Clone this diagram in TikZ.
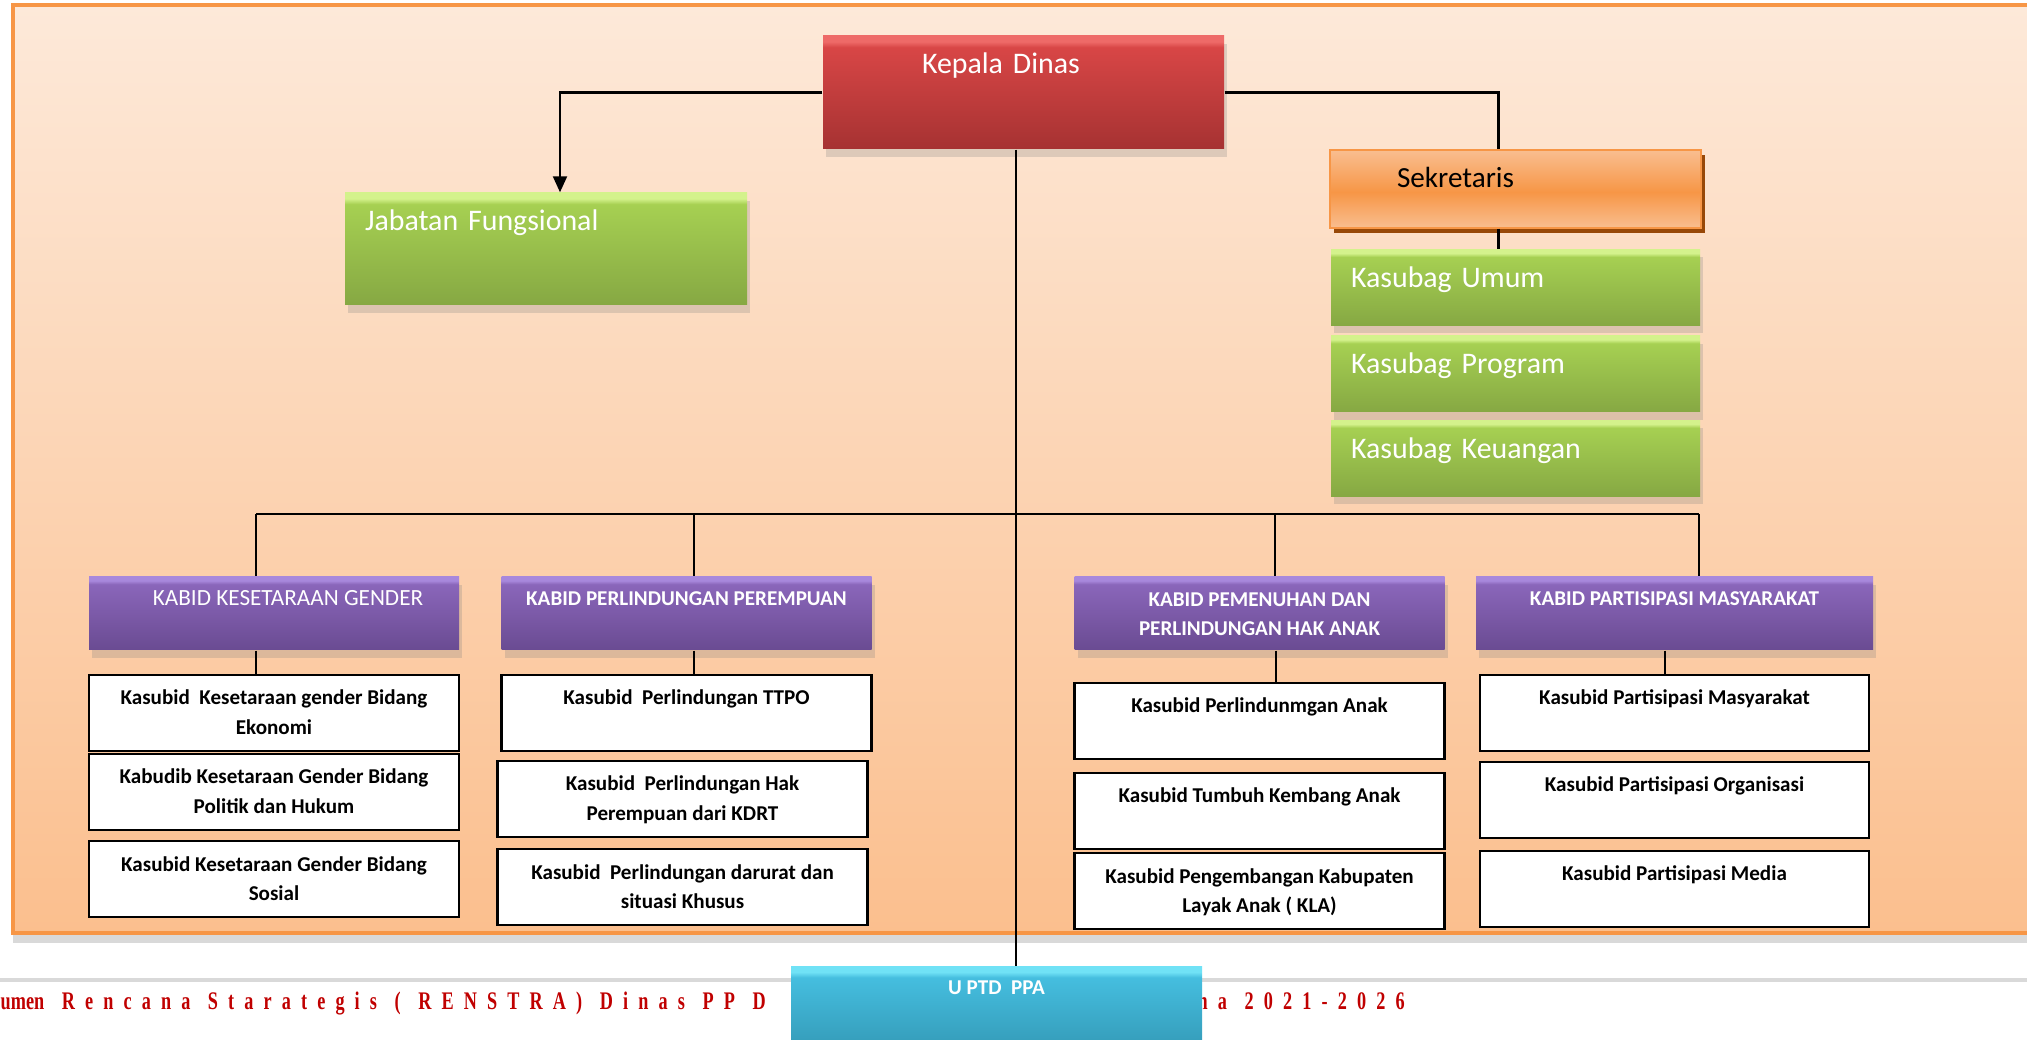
\documentclass[tikz,border=0pt]{standalone}
\usepackage{fontspec}
\setmainfont{Carlito}
\newfontfamily\footfont[LetterSpace=40, WordSpace=1.2, FakeStretch=0.72]{Liberation Serif}
\usetikzlibrary{arrows.meta,positioning,shadows}
\definecolor{panelTop}{HTML}{FDE9D9}
\definecolor{panelBot}{HTML}{FBBF8E}
\definecolor{panelLine}{HTML}{F79646}
\definecolor{redTop}{HTML}{D84646}
\definecolor{redBot}{HTML}{A63232}
\definecolor{redLite}{HTML}{EE6A68}
\definecolor{grnTop}{HTML}{A6D052}
\definecolor{grnBot}{HTML}{86A843}
\definecolor{grnLite}{HTML}{D4F28C}
\definecolor{purTop}{HTML}{8A66BA}
\definecolor{purBot}{HTML}{6A4B92}
\definecolor{purLite}{HTML}{A888DC}
\definecolor{cyaTop}{HTML}{45BEDF}
\definecolor{cyaBot}{HTML}{2E8EAA}
\definecolor{cyaLite}{HTML}{70E2F6}
\definecolor{orMid}{HTML}{F79646}
\definecolor{orLite}{HTML}{F9BE90}
\definecolor{orShadow}{HTML}{984807}
\definecolor{footRed}{HTML}{C00000}
\definecolor{footLine}{HTML}{D9D9D9}
\pgfdeclareverticalshading{redbevel}{100bp}{color(0bp)=(redBot); color(25bp)=(redBot); color(70bp)=(redTop); color(72.5bp)=(redLite); color(100bp)=(redLite)}
\pgfdeclareverticalshading{greenbevel}{100bp}{color(0bp)=(grnBot); color(25bp)=(grnBot); color(70bp)=(grnTop); color(72.5bp)=(grnLite); color(100bp)=(grnLite)}
\pgfdeclareverticalshading{purplebevel}{100bp}{color(0bp)=(purBot); color(25bp)=(purBot); color(70bp)=(purTop); color(72.5bp)=(purLite); color(100bp)=(purLite)}
\pgfdeclareverticalshading{cyanbevel}{100bp}{color(0bp)=(cyaBot); color(25bp)=(cyaBot); color(70bp)=(cyaTop); color(72.5bp)=(cyaLite); color(100bp)=(cyaLite)}
\pgfdeclareverticalshading{orangeband}{100bp}{color(0bp)=(orLite); color(25bp)=(orLite); color(48bp)=(orMid); color(75bp)=(orLite); color(100bp)=(orLite)}

\begin{document}
\begin{tikzpicture}[node distance=0.1cm,
    softshadow/.style={drop shadow={shadow xshift=0.3mm, shadow yshift=-0.8mm, opacity=0.25}},
    chief/.style={shade, shading=redbevel, softshadow, text=white, align=left, inner ysep=0pt, inner xsep=0.99cm, text width=2.03cm, text height=0.38cm, text depth=0.75cm, font=\fontsize{8.5}{10}\selectfont},
    greenbox/.style={shade, shading=greenbevel, softshadow, text=white, align=left, inner ysep=0pt, inner xsep=0.2cm, text height=0.38cm, font=\fontsize{8.5}{10}\selectfont},
    secbox/.style={shade, shading=orangeband, draw=orMid, drop shadow={shadow xshift=0.4mm, shadow yshift=-0.5mm, fill=orShadow, opacity=1}, align=left, inner ysep=0pt, inner xsep=0.67cm, text width=2.37cm, text height=0.38cm, text depth=0.40cm, font=\fontsize{8.3}{10}\selectfont},
    kabid/.style={shade, shading=purplebevel, softshadow, text=white, align=center, inner sep=0pt, minimum width=3.70cm, text height=0.29cm, text depth=0.44cm, font=\bfseries\fontsize{6}{8.5}\selectfont},
    kasubid/.style={draw, fill=white, line width=0.6pt, align=center, inner sep=0pt, minimum width=3.70cm, text height=0.30cm, text depth=0.46cm, font=\bfseries\fontsize{6}{8.5}\selectfont},
    twoline/.style={text height=0.60cm, text depth=0.16cm},
    unitbox/.style={shade, shading=cyanbevel, text=white, align=center, inner sep=0pt, minimum width=4.11cm, text height=0.28cm, text depth=0.80cm, font=\bfseries\fontsize{6}{8.5}\selectfont},
    footer/.style={anchor=base west, inner sep=0pt, text=footRed, font=\footfont\bfseries\fontsize{7.2}{8}\selectfont},
    link/.style={line width=0.6pt}]
  \useasboundingbox (0,0) rectangle (20.27,-10.40);
  % background panel
  \shade[top color=panelTop, bottom color=panelBot, drop shadow={shadow xshift=0mm, shadow yshift=-1mm, opacity=0.3}] (0.13,-0.05) rectangle (20.8,-9.33);
  \draw[panelLine, line width=0.9pt] (20.8,-0.05) -- (0.13,-0.05) -- (0.13,-9.33) -- (20.8,-9.33);
  \draw[footLine, line width=1.2pt] (0,-9.80) -- (20.27,-9.80);

  \node[chief] (kadis) at (10.235,-0.925) {Kepala Dinas};
  \node[greenbox, text width=3.62cm, text depth=0.74cm] (jafung) at (5.46,-2.49) {Jabatan Fungsional};
  \node[secbox] (sekre) at (15.155,-1.89) {Sekretaris};
  \node[greenbox, text width=3.29cm, text depth=0.38cm, below=0.2cm of sekre] (umum) {Kasubag Umum};
  \node[greenbox, text width=3.29cm, text depth=0.38cm, below=0.09cm of umum] (program) {Kasubag Program};
  \node[greenbox, text width=3.29cm, text depth=0.38cm, below=0.07cm of program] (keuangan) {Kasubag Keuangan};

  \node[kabid, font=\fontsize{6.6}{8.5}\selectfont] (kg) at (2.74,-6.135) {\hspace*{0.28cm}KABID KESETARAAN GENDER};
  \node[kabid] (pp) at (6.865,-6.135) {KABID PERLINDUNGAN PEREMPUAN};
  \node[kabid, text height=0.59cm, text depth=0.14cm] (pa) at (12.595,-6.135) {KABID PEMENUHAN DAN\\PERLINDUNGAN HAK ANAK};
  \node[kabid, minimum width=3.97cm] (pm) at (16.745,-6.135) {KABID PARTISIPASI MASYARAKAT};

  \node[kasubid, twoline, below=0.23cm of kg] (kg1) {Kasubid\ \ Kesetaraan gender Bidang\\Ekonomi};
  \node[kasubid, twoline, below=0.01cm of kg1] (kg2) {Kabudib Kesetaraan Gender Bidang\\Politik dan Hukum};
  \node[kasubid, twoline, below=0.09cm of kg2] (kg3) {Kasubid Kesetaraan Gender Bidang\\Sosial};

  \node[kasubid, below=0.23cm of pp] (pp1) {Kasubid\ \ Perlindungan TTPO};
  \node[kasubid, twoline, below=0.08cm of pp1, xshift=-0.04cm] (pp2) {Kasubid\ \ Perlindungan Hak\\Perempuan dari KDRT};
  \node[kasubid, twoline, below=0.10cm of pp2] (pp3) {Kasubid\ \ Perlindungan darurat dan\\situasi Khusus};

  \node[kasubid, below=0.31cm of pa] (pa1) {Kasubid Perlindunmgan Anak};
  \node[kasubid, below=0.12cm of pa1] (pa2) {Kasubid Tumbuh Kembang Anak};
  \node[kasubid, twoline, below=0.02cm of pa2] (pa3) {Kasubid Pengembangan Kabupaten\\Layak Anak ( KLA)};

  \node[kasubid, minimum width=3.89cm, below=0.23cm of pm] (pm1) {Kasubid Partisipasi Masyarakat};
  \node[kasubid, minimum width=3.89cm, below=0.09cm of pm1] (pm2) {Kasubid Partisipasi Organisasi};
  \node[kasubid, minimum width=3.89cm, below=0.11cm of pm2] (pm3) {Kasubid Partisipasi Media};

  % footer
  \node[footer] (foot1) at (0,-10.09) {{\addfontfeature{LetterSpace=0}umen} Rencana Starategis ( RENSTRA) Dinas PP D};
  \node[footer] (foot2) at (11.97,-10.09) {na 2021-2026};
  \node[unitbox, anchor=north] (uptd) at (9.965,-9.66) {U PTD\ \ PPA};

  \coordinate (bus) at (10.16,-5.14);
  \coordinate (dkg) at (2.56,-5.14);
  \coordinate (dpp) at (6.94,-5.14);
  \coordinate (dpa) at (12.75,-5.14);
  \coordinate (dpm) at (16.99,-5.14);

  \draw[link, -{Triangle[length=1.6mm,width=1.4mm]}] (kadis.west) -| ([xshift=0.14cm]jafung.north);
  \draw[link] (kadis.east) -| ([xshift=-0.17cm]sekre.north);
  \draw[link] ([xshift=-0.17cm]sekre.south) -- ([xshift=-0.17cm]umum.north);
  \draw[link] (kadis.south -| bus) -- (uptd.north -| bus);
  \draw[link] (dkg) -- (dpm);
  \foreach \d/\k in {dkg/kg, dpp/pp, dpa/pa, dpm/pm}
    \draw[link] (\d) -- (\d |- \k.north);
  \foreach \k/\s in {kg/-0.18, pp/0.075, pa/0.165, pm/-0.095}
    \draw[link] ([xshift=\s cm]\k.south) -- ([xshift=\s cm]\k1.north);
\end{tikzpicture}
\end{document}
